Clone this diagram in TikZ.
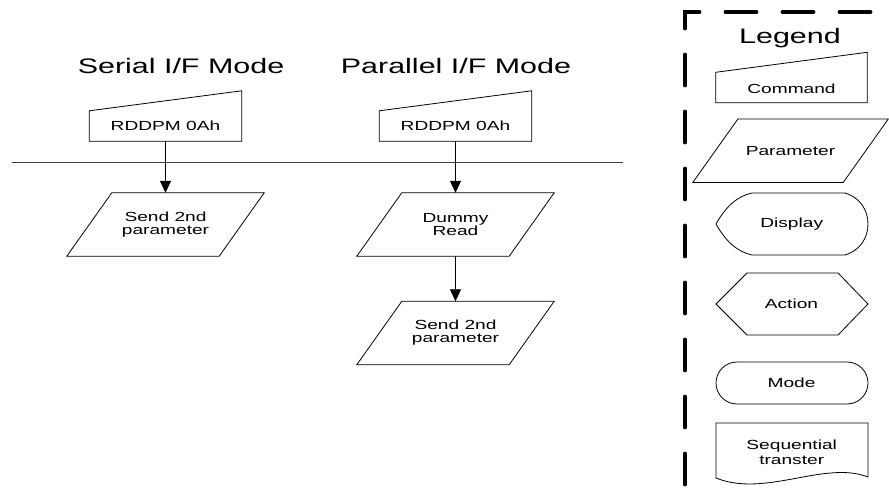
\documentclass[tikz,border=0pt]{standalone}
\usepackage{fontspec}
\setmainfont[FakeStretch=1.45]{Liberation Sans}
\usetikzlibrary{arrows.meta}
\begin{document}
\begin{tikzpicture}[x=1pt,y=-1pt,
  shp/.style={draw=black, line width=0.8pt, line join=miter},
  txt/.style={font=\fontsize{13.2}{13}\selectfont, inner sep=0pt, align=center},
  btxt/.style={txt, anchor=base},
  ttl/.style={font=\fontsize{21}{24}\selectfont, inner sep=0pt, anchor=base},
  cmdbox/.style={minimum width=152pt, minimum height=50pt, inner sep=0pt},
  parbox/.style={txt, minimum width=197pt, minimum height=63pt},
  flow/.style={draw=black, line width=0.8pt, -{Triangle[length=12pt,width=11pt]}},
  legdash/.style={line width=3.8pt, line cap=round, dash pattern=on 31pt off 26pt, dash phase=21.5pt}]
\useasboundingbox (0,0) rectangle (889,502);

% titles
\node[ttl] (tser) at (181,73.3) {Serial I/F Mode};
\node[ttl] (tpar) at (456,73.3) {Parallel I/F Mode};

% separator line
\draw[black!75, line width=0.8pt] (12,162.3) -- (623,162.3);

% serial flow
\node[cmdbox] (c1) at (165.5,116) {};
\draw[shp] (c1.south west) -- ([yshift=-20pt]c1.north west) -- (c1.north east) -- (c1.south east) -- cycle;
\node[btxt] (c1t) at (165.5,130.3) {RDDPM 0Ah};
\node[parbox] (p1) at (165.5,224.5) {Send 2nd\\parameter};
\draw[shp] ([xshift=45pt]p1.north west) -- (p1.north east) -- ([xshift=-45pt]p1.south east) -- (p1.south west) -- cycle;
\draw[flow] (c1.south) -- (p1.north);

% parallel flow
\node[cmdbox] (c2) at (455.5,116) {};
\draw[shp] (c2.south west) -- ([yshift=-20pt]c2.north west) -- (c2.north east) -- (c2.south east) -- cycle;
\node[btxt] (c2t) at (455.5,130.3) {RDDPM 0Ah};
\node[parbox] (p2) at (455.5,224.5) {Dummy\\Read};
\draw[shp] ([xshift=45pt]p2.north west) -- (p2.north east) -- ([xshift=-45pt]p2.south east) -- (p2.south west) -- cycle;
\node[parbox] (p3) at (455.5,333) {Send 2nd\\parameter};
\draw[shp] ([xshift=45pt]p3.north west) -- (p3.north east) -- ([xshift=-45pt]p3.south east) -- (p3.south west) -- cycle;
\draw[flow] (c2.south) -- (p2.north);
\draw[flow] (p2.south) -- (p3.north);

% legend
\begin{scope}
\clip (0,0) rectangle (889,502);
\draw[legdash] (685,520) -- (685,12) -- (900,12);
\end{scope}
\node[ttl] (leg) at (790,43.3) {Legend};

\node[cmdbox, minimum width=151pt] (lc) at (791.5,77.5) {};
\draw[shp] (lc.south west) -- ([yshift=-20pt]lc.north west) -- (lc.north east) -- (lc.south east) -- cycle;
\node[btxt] (lct) at (791.5,93.3) {Command};

\node[parbox, minimum width=195pt] (lp) at (790.5,150.8) {Parameter};
\draw[shp] ([xshift=45pt]lp.north west) -- (lp.north east) -- ([xshift=-45pt]lp.south east) -- (lp.south west) -- cycle;

\draw[shp] (716,224) .. controls (726,206) and (738,196) .. (752,193) -- (845,193)
  .. controls (861,198) and (868,211) .. (868,224)
  .. controls (868,237) and (861,250) .. (845,255) -- (752,255)
  .. controls (738,252) and (726,242) .. (716,224) -- cycle;
\node[txt] (ld) at (791.7,224) {Display};

\draw[shp] (716,304) -- (747,273) -- (838,273) -- (868,304) -- (838,335) -- (747,335) -- cycle;
\node[txt] (la) at (791.5,304) {Action};

\draw[shp, rounded corners=21pt] (716,362) rectangle (868,404);
\node[txt] (lm) at (791.5,383) {Mode};

\draw[shp] (716,478) -- (716,423) -- (868,423) -- (868,477)
  .. controls (825,460) and (765,498) .. (716,478) -- cycle;
\node[txt, font=\fontsize{13.2}{14.5}\selectfont] (ls) at (791.7,452.5) {Sequential\\transter};
\end{tikzpicture}
\end{document}
